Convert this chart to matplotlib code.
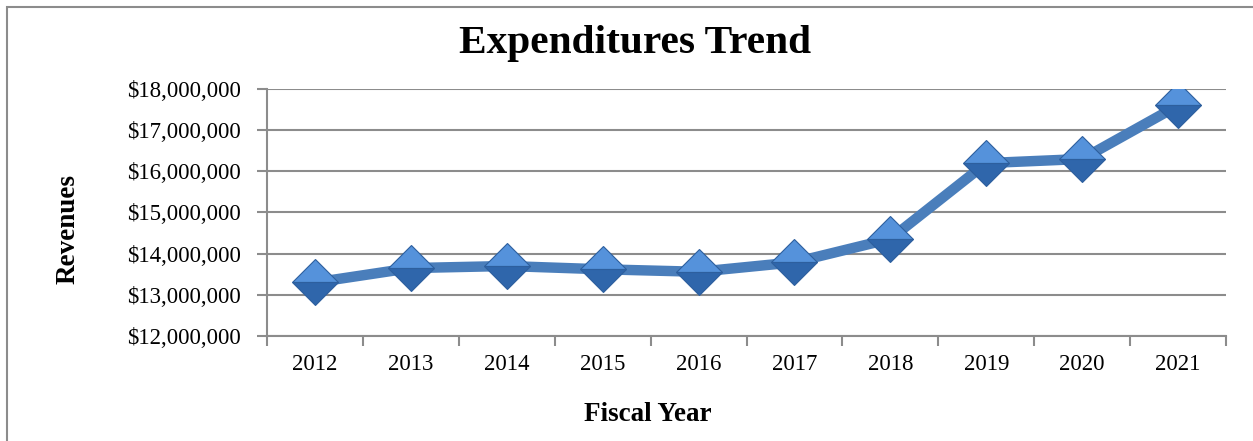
import matplotlib.pyplot as plt
from matplotlib.patches import Rectangle
from matplotlib.ticker import StrMethodFormatter, FixedLocator

years = ['2012', '2013', '2014', '2015', '2016', '2017', '2018', '2019', '2020', '2021']
expenditures = [13300000, 13650000, 13700000, 13620000, 13560000,
                13790000, 14360000, 16200000, 16300000, 17600000]

plt.rcParams['font.family'] = ['Liberation Serif', 'DejaVu Serif']

fig = plt.figure(figsize=(12.53, 4.41), dpi=100)
ax = fig.add_axes([0.2131, 0.2381, 0.7654, 0.5601])

grey = '#8c8c8c'
x = list(range(len(years)))

ax.plot(x, expenditures, color='#4a7ebb', linewidth=7.5, solid_capstyle='round',
        zorder=3)
# diamond markers, lighter on top, darker below
ax.plot(x, expenditures, linestyle='none', marker='D', markersize=23,
        fillstyle='top', markerfacecolor='#5592db', markerfacecoloralt='#2f66ab',
        markeredgecolor='#2d5f9e', markeredgewidth=0.8, zorder=4)

ax.set_xlim(-0.5, 9.5)
ax.set_ylim(12000000, 18000000)
ax.set_yticks(range(12000000, 18000001, 1000000))
ax.yaxis.set_major_formatter(StrMethodFormatter('${x:,.0f}'))
ax.set_xticks(x)
ax.set_xticklabels(years)
ax.xaxis.set_minor_locator(FixedLocator([i - 0.5 for i in range(len(years) + 1)]))

ax.grid(axis='y', color=grey, linewidth=1.5)
ax.set_axisbelow(True)
for side in ['top', 'right']:
    ax.spines[side].set_visible(False)
for side in ['left', 'bottom']:
    ax.spines[side].set_color(grey)
    ax.spines[side].set_linewidth(1.5)

ax.tick_params(axis='x', which='major', length=0, labelsize=16.5, pad=13)
ax.tick_params(axis='x', which='minor', length=7, width=1.5, color=grey, direction='out')
ax.tick_params(axis='y', length=7, width=1.5, color=grey, direction='out',
               labelsize=16.5, pad=12)

fig.text(0.507, 0.901, 'Expenditures Trend', ha='center', va='center',
         fontsize=29.8, fontweight='bold')
fig.text(0.054, 0.481, 'Revenues', ha='center', va='center', rotation=90,
         fontsize=19.5, fontweight='bold')
fig.text(0.517, 0.06, 'Fiscal Year', ha='center', va='center',
         fontsize=19.5, fontweight='bold')

fig.patches.append(Rectangle((7 / 1253, -0.2), 1.2, 1.2 - 7 / 441,
                             transform=fig.transFigure, fill=False,
                             edgecolor=grey, linewidth=1.5))

fig.savefig('out.png', dpi=100)
